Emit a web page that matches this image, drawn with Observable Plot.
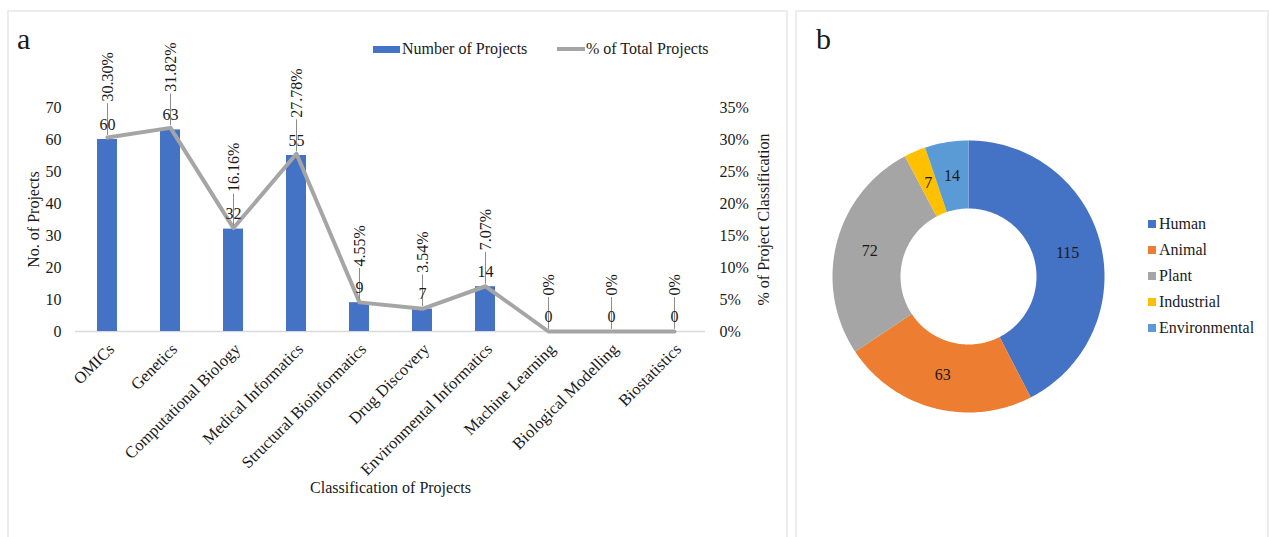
<!DOCTYPE html>
<html>
<head>
<meta charset="utf-8">
<script src="https://cdn.jsdelivr.net/npm/d3@7"></script>
<script src="https://cdn.jsdelivr.net/npm/@observablehq/plot@0.6"></script>
<style>
  body { margin: 0; background: #fff; font-family: "Liberation Serif", "Times New Roman", serif; color: #1a1a1a; }
  #page { position: relative; width: 1269px; height: 537px; overflow: hidden; }
  .panel { position: absolute; top: 10px; height: 540px; border: 2px solid #ededed; border-bottom: none; box-sizing: border-box; }
  .chart { position: absolute; top: 0; }
  .tag { position: absolute; font-size: 30px; line-height: 30px; }
  .lg { position: absolute; font-size: 16px; line-height: 20px; white-space: nowrap; }
  .sw { position: absolute; }
</style>
</head>
<body>
<div id="page">
  <div class="panel" style="left:7px;width:781px"></div>
  <div class="panel" style="left:795px;width:474px"></div>
  <div id="chartA" class="chart" style="left:0"></div>
  <div id="chartB" class="chart" style="left:796px"></div>
  <div class="tag" style="left:17px;top:24px">a</div>
  <div class="tag" style="left:816px;top:24px">b</div>
  <div id="legendA"></div>
  <div id="legendB"></div>
</div>
<script>
// Panel a: projects per classification
const categories = [
  "OMICs", "Genetics", "Computational Biology", "Medical Informatics",
  "Structural Bioinformatics", "Drug Discovery", "Environmental Informatics",
  "Machine Learning", "Biological Modelling", "Biostatistics"
];
const projectCounts = [60, 63, 32, 55, 9, 7, 14, 0, 0, 0];
const projectShares = [30.30, 31.82, 16.16, 27.78, 4.55, 3.54, 7.07, 0, 0, 0];
const countTicks = [0, 10, 20, 30, 40, 50, 60, 70];
const shareTicks = [0, 5, 10, 15, 20, 25, 30, 35];

// Panel b: projects per source
const sources = ["Human", "Animal", "Plant", "Industrial", "Environmental"];
const sourceCounts = [115, 63, 72, 7, 14];
const sourceColors = ["#4472C4", "#ED7D31", "#A5A5A5", "#FFC000", "#5B9BD5"];

const barColor = "#4472C4";
const lineColor = "#A5A5A5";
const textColor = "#1a1a1a";

// The secondary axis (0–35 %) shares the primary axis (0–70) range.
const shareScale = countTicks[countTicks.length - 1] / shareTicks[shareTicks.length - 1];

const rows = categories.map((category, i) => ({
  category,
  count: projectCounts[i],
  share: projectShares[i],
  shareY: projectShares[i] * shareScale
}));

const fmtShare = (s) => (s === 0 ? "0%" : s.toFixed(2) + "%");

// plain line used as a leader from a data point up to its label
const leader = { draw(context, l) { context.moveTo(0, 0); context.lineTo(0, -l); } };

const chartA = Plot.plot({
  width: 790,
  height: 537,
  marginLeft: 75,
  marginRight: 85,
  marginTop: 107,
  marginBottom: 206,
  style: { fontFamily: "Liberation Serif, Times New Roman, serif", fontSize: "16px", color: textColor, background: "transparent" },
  x: { domain: categories, paddingInner: 0.69, paddingOuter: 0.345, label: null },
  y: { domain: [0, 70], label: null },
  marks: [
    Plot.ruleY([0], { stroke: "#d9d9d9", strokeWidth: 1.5 }),
    Plot.barY(rows, { x: "category", y: "count", fill: barColor }),
    Plot.line(rows, { x: "category", y: "shareY", stroke: lineColor, strokeWidth: 4, strokeLinejoin: "round", strokeLinecap: "round" }),
    Plot.vector(rows, { x: "category", y: "shareY", length: 31, rotate: 0, anchor: "start", shape: leader, dy: -3, stroke: "#8c8c8c", strokeWidth: 1 }),
    Plot.text(rows, { x: "category", y: "count", text: (d) => String(d.count), dy: -15, fontSize: 16, fill: textColor }),
    Plot.text(rows, { x: "category", y: "shareY", text: (d) => fmtShare(d.share), rotate: -90, textAnchor: "start", dy: -36, fontSize: 16, fill: textColor }),
    Plot.axisY({ ticks: countTicks, tickSize: 0, tickPadding: 14, fontSize: 16, label: null }),
    Plot.axisY({ anchor: "right", ticks: shareTicks.map((s) => s * shareScale), tickFormat: (d) => `${d / shareScale}%`, tickSize: 0, tickPadding: 14, fontSize: 16, label: null }),
    Plot.axisX({ tickRotate: -45, tickSize: 0, tickPadding: 15, dx: 4, fontSize: 16.5, label: null }),
    Plot.text(["No. of Projects"], { text: (d) => d, frameAnchor: "left", textAnchor: "middle", rotate: -90, dx: -42, fontSize: 16, fill: textColor }),
    Plot.text(["% of Project Classification"], { text: (d) => d, frameAnchor: "right", textAnchor: "middle", rotate: -90, dx: 58, fontSize: 16, fill: textColor }),
    Plot.text(["Classification of Projects"], { text: (d) => d, frameAnchor: "bottom", dy: 161, fontSize: 16, fill: textColor })
  ]
});
document.getElementById("chartA").append(chartA);

// Panel b: donut drawn as rings around the pole of an azimuthal projection
const innerLat = 60, outerLat = 30, labelLat = 45;
const arcs = d3.pie().sort(null)(sourceCounts);
const deg = (a) => (a * 180) / Math.PI;

function ring(a0, a1) {
  const l0 = 180 - deg(a1), l1 = 180 - deg(a0);
  const n = Math.max(2, Math.ceil(l1 - l0));
  const inner = d3.range(n + 1).map((i) => [l0 + ((l1 - l0) * i) / n, innerLat]);
  const outer = d3.range(n + 1).map((i) => [l1 - ((l1 - l0) * i) / n, outerLat]);
  return [...inner, ...outer, inner[0]];
}

const slices = arcs.map((a, i) => ({
  type: "Feature",
  properties: { name: sources[i], value: sourceCounts[i], mid: 180 - deg((a.startAngle + a.endAngle) / 2) },
  geometry: { type: "Polygon", coordinates: [ring(a.startAngle, a.endAngle)] }
}));

const chartB = Plot.plot({
  width: 473,
  height: 537,
  marginLeft: 36,
  marginRight: 165,
  marginTop: 140,
  marginBottom: 125,
  style: { fontFamily: "Liberation Serif, Times New Roman, serif", fontSize: "16px", color: textColor, background: "transparent" },
  projection: { type: "azimuthal-equidistant", rotate: [0, -90], domain: d3.geoCircle().center([0, 90]).radius(90 - outerLat)() },
  color: { domain: sources, range: sourceColors },
  marks: [
    Plot.geo(slices, { fill: (d) => d.properties.name, stroke: "none" }),
    Plot.text(slices, { x: (d) => d.properties.mid, y: () => labelLat, text: (d) => String(d.properties.value), fontSize: 16, fill: textColor })
  ]
});
document.getElementById("chartB").append(chartB);

// Legends
const legendA = document.getElementById("legendA");
legendA.innerHTML = `
  <div class="sw" style="left:373px;top:46px;width:27px;height:7px;background:${barColor}"></div>
  <div class="lg" style="left:402px;top:39px">Number of Projects</div>
  <div class="sw" style="left:557px;top:47px;width:28px;height:4px;background:${lineColor}"></div>
  <div class="lg" style="left:586px;top:39px">% of Total Projects</div>`;

const legendB = document.getElementById("legendB");
legendB.innerHTML = sources.map((s, i) => `
  <div class="sw" style="left:1148px;top:${220 + i * 26}px;width:8px;height:8px;background:${sourceColors[i]}"></div>
  <div class="lg" style="left:1159px;top:${214 + i * 26}px">${s}</div>`).join("");
</script>
</body>
</html>
